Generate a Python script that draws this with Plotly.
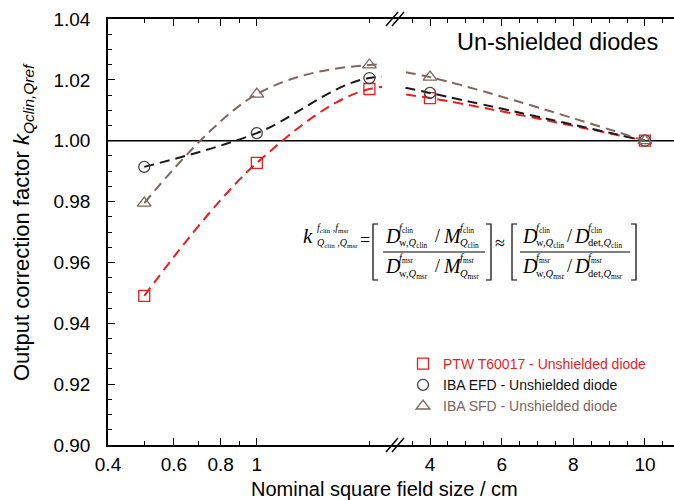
import math
import plotly.graph_objects as go

# ---------------- data ----------------
field_size = [0.5, 1, 2, 4, 10]
ptw_t60017 = [0.949, 0.9927, 1.0170, 1.0140, 1.000]
iba_efd = [0.9914, 1.0025, 1.0206, 1.0157, 1.000]
iba_sfd = [0.9795, 1.0153, 1.0249, 1.0209, 1.000]
series_names = ["PTW T60017 - Unshielded diode",
                "IBA EFD - Unshielded diode",
                "IBA SFD - Unshielded diode"]
y_tick_vals = [0.90, 0.92, 0.94, 0.96, 0.98, 1.00, 1.02, 1.04]
x_left_ticks = [0.4, 0.6, 0.8, 1]
x_left_minor = [0.5, 0.7, 0.9, 2]
x_right_ticks = [4, 6, 8, 10]

# ---------------- style ----------------
W, H = 674, 500
L, R, T, B = 108, 0, 19, 55
PW, PH = W - L - R, H - T - B
SANS = "Liberation Sans, Arial, Helvetica, sans-serif"
SERIF = "Liberation Serif, Times New Roman, serif"
RED = "#ec1c1f"
BLACK = "#1a1a1a"
BROWN = "#7d6863"
BREAK_PX = 395


def pp(px, py):
    return (px - L) / PW, ((H - B) - py) / PH


styles = [
    dict(data=ptw_t60017, color=RED, mcolor=RED, symbol="square-open", size=11, tcolor=RED),
    dict(data=iba_efd, color=BLACK, mcolor="#444444", symbol="circle-open", size=11, tcolor="#111111"),
    dict(data=iba_sfd, color=BROWN, mcolor="#7a6662", symbol="triangle-up-open", size=12, tcolor="#7a6662"),
]

fig = go.Figure()
for s in styles:
    common = dict(mode="lines+markers", showlegend=False, hoverinfo="x+y",
                  line=dict(shape="spline", smoothing=1, dash="10px,6px", color=s["color"], width=2),
                  marker=dict(symbol=s["symbol"], size=s["size"], color=s["mcolor"],
                              line=dict(color=s["mcolor"], width=1.3)))
    fig.add_trace(go.Scatter(x=field_size[:4], y=s["data"][:4], xaxis="x", yaxis="y", **common))
    fig.add_trace(go.Scatter(x=field_size[2:], y=s["data"][2:], xaxis="x2", yaxis="y2", **common))

for s, name in zip(styles, series_names):
    fig.add_trace(go.Scatter(x=[None], y=[None], mode="markers", xaxis="x", yaxis="y",
                             name=f'<span style="color:{s["tcolor"]}">{name}</span>',
                             marker=dict(symbol=s["symbol"], size=s["size"], color=s["mcolor"],
                                         line=dict(color=s["mcolor"], width=1.3))))

split = (BREAK_PX - L) / PW
decade_px = 374.0
left_hi = math.log10(0.4) + (BREAK_PX - L) / decade_px
unit_px = 35.83
right_lo = 4 - (430 - BREAK_PX) / unit_px
right_hi = right_lo + (W - BREAK_PX) / unit_px

axis_common = dict(showline=True, linecolor="black", linewidth=1.5, ticks="inside", ticklen=7,
                   tickwidth=1.2, tickcolor="black", showgrid=False, zeroline=False,
                   tickfont=dict(family=SANS, size=19, color="black"), mirror="ticks")

fig.update_layout(
    width=W, height=H, margin=dict(l=L, r=R, t=T, b=B),
    paper_bgcolor="white", plot_bgcolor="white",
    xaxis=dict(type="log", range=[math.log10(0.4), left_hi], domain=[0, split], anchor="y",
               tickmode="array", tickvals=x_left_ticks, ticktext=[str(v) for v in x_left_ticks],
               minor=dict(tickmode="array", tickvals=x_left_minor, ticks="inside", ticklen=4,
                          tickcolor="black", tickwidth=1.2),
               ticklabelstandoff=1, **axis_common),
    xaxis2=dict(type="linear", range=[right_lo, right_hi], domain=[split, 1], anchor="y2",
                tickmode="array", tickvals=x_right_ticks, ticktext=[str(v) for v in x_right_ticks],
                minor=dict(dtick=0.5, tick0=0, ticks="inside", ticklen=4, tickcolor="black", tickwidth=1.2),
                ticklabelstandoff=1, **axis_common),
    yaxis=dict(range=[0.90, 1.04], domain=[0, 1], anchor="x", tickmode="array", tickvals=y_tick_vals,
               tickformat=".2f",
               minor=dict(dtick=0.005, tick0=0.9, ticks="inside", ticklen=4, tickcolor="black", tickwidth=1.2),
               ticklabelstandoff=12,
               **{k: v for k, v in axis_common.items() if k != "mirror"}),
    yaxis2=dict(matches="y", anchor="x2", domain=[0, 1], visible=False),
    legend=dict(x=pp(403, 0)[0], y=pp(0, 348)[1], xanchor="left", yanchor="top",
                bgcolor="rgba(0,0,0,0)", font=dict(family=SANS, size=14), itemwidth=30,
                tracegroupgap=0),
    showlegend=True,
)

# horizontal reference line at 1.00
fig.add_shape(type="line", xref="paper", yref="y", x0=0, x1=1, y0=1.0, y1=1.0,
              line=dict(color="black", width=1.5), layer="below")

# gap in the curves at the axis break
gx0, _ = pp(382, 0)
gx1, _ = pp(404, 0)
fig.add_shape(type="rect", xref="paper", yref="y", x0=gx0, x1=gx1, y0=1.008, y1=1.032,
              fillcolor="white", line=dict(width=0), layer="above")

# axis break marks
for yb in (19, 445):
    for dx in (0, 6):
        x0, y0 = pp(386 + dx, yb + 7)
        x1, y1 = pp(398 + dx, yb - 7)
        fig.add_shape(type="line", xref="paper", yref="paper", x0=x0, y0=y0, x1=x1, y1=y1,
                      line=dict(color="black", width=1.5))

ann = []


def txt(s, px, py, size, family=SANS, anchor="left", angle=0, color="black"):
    x, y = pp(px, py)
    ann.append(dict(text=s, x=x, y=y, xref="paper", yref="paper", xanchor=anchor, yanchor="middle",
                    showarrow=False, textangle=angle, borderpad=0,
                    font=dict(size=size, family=family, color=color)))


# titles and labels
txt("Nominal square field size / cm", 384, 489, 20, anchor="center")
txt("Output correction factor <i>k</i><sub><i>Qclin,Qref</i></sub>", 23, 222, 22, anchor="center", angle=-90)
txt("Un-shielded diodes", 659, 42, 23.5, anchor="right")

# equation
fcl = "<i>f</i><sub>clin</sub>"
fms = "<i>f</i><sub>msr</sub>"
qcl = "<i>Q</i><sub>clin</sub>"
qms = "<i>Q</i><sub>msr</sub>"
txt("<i>k</i>", 302, 236, 21, SERIF)
txt(f"{fcl} ,{fms}", 316, 228, 10, SERIF)
txt(f"{qcl} ,{qms}", 316, 244, 10, SERIF)
txt("=", 359, 240, 18, SERIF)
txt("≈", 494, 243, 18, SERIF)


def term(main, sup, sub, px, pyc, off=14):
    txt(f"<i>{main}</i>", px, pyc, 20, SERIF)
    txt(sup, px + off, pyc - 8, 10.5, SERIF)
    txt(sub, px + off, pyc + 8, 10.5, SERIF)


for pyc, f, q in ((236, fcl, qcl), (266, fms, qms)):
    term("D", f, f"w,{q}", 384, pyc)
    txt("/", 434, pyc, 18, SERIF)
    term("M", f, q, 442, pyc, off=17)
    term("D", f, f"w,{q}", 521, pyc)
    txt("/", 566, pyc, 18, SERIF)
    term("D", f, f"det,{q}", 573, pyc)

fig.update_layout(annotations=ann)

# fraction bars and brackets
for xa, xb in ((383, 485), (520, 630)):
    x0, y0 = pp(xa, 252)
    x1, _ = pp(xb, 252)
    fig.add_shape(type="line", xref="paper", yref="paper", x0=x0, x1=x1, y0=y0, y1=y0,
                  line=dict(color="black", width=1))
for xs, d in ((373, 1), (491, -1), (512, 1), (636, -1)):
    pts = [pp(xs + 5 * d, 224), pp(xs, 224), pp(xs, 280), pp(xs + 5 * d, 280)]
    path = "M " + " L ".join(f"{a},{b}" for a, b in pts)
    fig.add_shape(type="path", xref="paper", yref="paper", path=path,
                  line=dict(color="black", width=1.2))

fig.write_html("out.html")
